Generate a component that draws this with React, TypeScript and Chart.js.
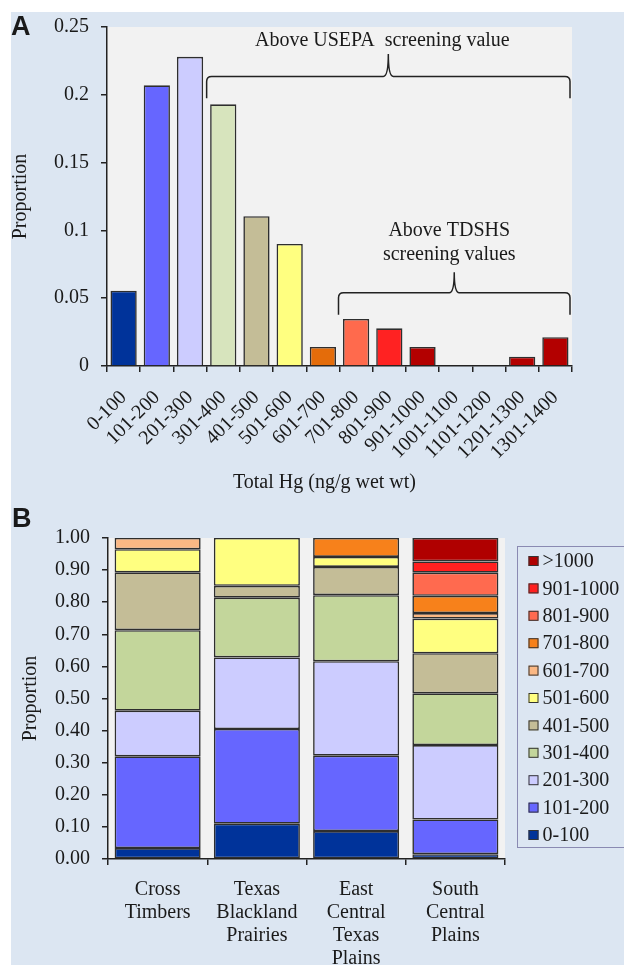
import React, { useEffect, useRef } from "react";
import { Chart, registerables } from "chart.js";

Chart.register(...registerables);

// ---------- Panel A data ----------
const hgBins = [
  "0-100", "101-200", "201-300", "301-400", "401-500", "501-600", "601-700",
  "701-800", "801-900", "901-1000", "1001-1100", "1101-1200", "1201-1300", "1301-1400",
];
const hgProportion = [
  0.0555, 0.207, 0.228, 0.193, 0.1105, 0.09, 0.014,
  0.0347, 0.0278, 0.014, 0, 0, 0.0069, 0.0212,
];
const hgColors = [
  "#00339a", "#6666ff", "#ccccff", "#d7e4bd", "#c4bd97", "#ffff80", "#e46c0a",
  "#ff6a4d", "#ff2222", "#b30000", "#b30000", "#b30000", "#b30000", "#b30000",
];
const yTicksA = [0, 0.05, 0.1, 0.15, 0.2, 0.25];

// ---------- Panel B data ----------
const ecoregions = [
  ["Cross", "Timbers"],
  ["Texas", "Blackland", "Prairies"],
  ["East", "Central", "Texas", "Plains"],
  ["South", "Central", "Plains"],
];
const classLabels = [
  "0-100", "101-200", "201-300", "301-400", "401-500", "501-600",
  "601-700", "701-800", "801-900", "901-1000", ">1000",
];
const classColors = [
  "#00339a", "#6666ff", "#ccccff", "#c3d69b", "#c4bd97", "#ffff80",
  "#fbb884", "#f7811b", "#ff6a4f", "#ff2020", "#b00000",
];
const crossTimbers = [0.034, 0.286, 0.142, 0.251, 0.18, 0.072, 0.035, 0, 0, 0, 0];
const blacklandPrairies = [0.11, 0.295, 0.223, 0.186, 0.037, 0.149, 0, 0, 0, 0, 0];
const eastCentralPlains = [0.087, 0.235, 0.294, 0.206, 0.088, 0.031, 0, 0.059, 0, 0, 0];
const southCentralPlains = [0.015, 0.108, 0.232, 0.161, 0.125, 0.108, 0.017, 0.054, 0.072, 0.035, 0.073];

const SERIF = "'Liberation Serif', 'Times New Roman', Times, serif";
const SANS = "'Liberation Sans', Arial, Helvetica, sans-serif";
const INK = "#1a1a1a";
const AXIS = "#222222";
const EDGE = "#2e2e2e";

const plotBg = {
  id: "plotBg",
  beforeDraw(chart: any) {
    const { ctx, chartArea } = chart;
    const { left, top, right, bottom } = chartArea;
    ctx.save();
    ctx.fillStyle = "#f2f2f2";
    ctx.fillRect(left, top, right - left, bottom - top);
    ctx.restore();
  },
};

function drawBrace(ctx: CanvasRenderingContext2D, x0: number, x1: number, lineY: number, endY: number, peakY: number) {
  const xm = (x0 + x1) / 2;
  const r = 5;
  const rm = 5;
  ctx.beginPath();
  ctx.moveTo(x0, endY);
  ctx.lineTo(x0, lineY + r);
  ctx.quadraticCurveTo(x0, lineY, x0 + r, lineY);
  ctx.lineTo(xm - rm, lineY);
  ctx.quadraticCurveTo(xm, lineY, xm, peakY);
  ctx.quadraticCurveTo(xm, lineY, xm + rm, lineY);
  ctx.lineTo(x1 - r, lineY);
  ctx.quadraticCurveTo(x1, lineY, x1, lineY + r);
  ctx.lineTo(x1, endY);
  ctx.stroke();
}

const annotateA = {
  id: "annotateA",
  afterDraw(chart: any) {
    const { ctx, chartArea } = chart;
    const xs = chart.scales.x;
    const ys = chart.scales.y;
    const half = (xs.getPixelForValue(1) - xs.getPixelForValue(0)) / 2;
    const leftEdge = (i: number) => xs.getPixelForValue(i) - half;
    const rightEdge = (i: number) => xs.getPixelForValue(i) + half;
    ctx.save();
    ctx.strokeStyle = AXIS;
    ctx.lineWidth = 1.5;
    // USEPA brace
    const u0 = leftEdge(3), u1 = rightEdge(13) - 2;
    drawBrace(ctx, u0, u1, ys.getPixelForValue(0.2135), ys.getPixelForValue(0.1975), ys.getPixelForValue(0.2300));
    // TDSHS brace
    const t0 = leftEdge(7) - 1, t1 = rightEdge(13) - 2;
    drawBrace(ctx, t0, t1, ys.getPixelForValue(0.054), ys.getPixelForValue(0.0378), ys.getPixelForValue(0.0692));

    ctx.fillStyle = INK;
    ctx.font = `20px ${SERIF}`;
    ctx.textAlign = "center";
    ctx.textBaseline = "middle";
    ctx.fillText("Above USEPA  screening value", (u0 + u1) / 2 - 6, ys.getPixelForValue(0.2395));
    ctx.fillText("Above TDSHS", (t0 + t1) / 2 - 5, ys.getPixelForValue(0.0996));
    ctx.fillText("screening values", (t0 + t1) / 2 - 5, ys.getPixelForValue(0.0819));

    // x title
    ctx.fillText("Total Hg (ng/g wet wt)", (chartArea.left + chartArea.right) / 2 - 15, 483);

    // y title
    ctx.save();
    ctx.translate(21, (chartArea.top + chartArea.bottom) / 2);
    ctx.rotate(-Math.PI / 2);
    ctx.fillText("Proportion", 0, 0);
    ctx.restore();

    // panel letter
    ctx.font = `bold 27px ${SANS}`;
    ctx.textAlign = "left";
    ctx.textBaseline = "alphabetic";
    ctx.fillText("A", 11, 35);
    ctx.restore();
  },
};

const annotateB = {
  id: "annotateB",
  afterDraw(chart: any) {
    const { ctx, chartArea } = chart;
    ctx.save();
    ctx.fillStyle = INK;
    ctx.font = `20px ${SERIF}`;
    ctx.textAlign = "center";
    ctx.textBaseline = "middle";
    ctx.save();
    ctx.translate(31, (chartArea.top + chartArea.bottom) / 2);
    ctx.rotate(-Math.PI / 2);
    ctx.fillText("Proportion", 0, 0);
    ctx.restore();

    ctx.font = `bold 27px ${SANS}`;
    ctx.textAlign = "left";
    ctx.textBaseline = "alphabetic";
    ctx.fillText("B", 12, 27);

    // legend
    const bx = chartArea.right + 12.5;
    const by = 46.5;
    ctx.strokeStyle = "#8a8ab2";
    ctx.lineWidth = 1;
    ctx.strokeRect(bx, by, 130, 301);
    ctx.font = `20px ${SERIF}`;
    ctx.textBaseline = "middle";
    const ds = chart.data.datasets;
    for (let k = 0; k < ds.length; k++) {
      const d = ds[ds.length - 1 - k];
      const y = 61 + k * 27.4;
      ctx.fillStyle = d.backgroundColor;
      ctx.fillRect(bx + 11, y - 5, 10, 10);
      ctx.strokeStyle = "#333";
      ctx.strokeRect(bx + 11.5, y - 4.5, 9, 9);
      ctx.fillStyle = INK;
      ctx.fillText(d.label, bx + 25, y + 1);
    }
    ctx.restore();
  },
};

export default function App() {
  const refA = useRef<HTMLCanvasElement>(null);
  const refB = useRef<HTMLCanvasElement>(null);

  useEffect(() => {
    const tickFont = { family: SERIF, size: 20 };
    const chartA = new Chart(refA.current as HTMLCanvasElement, {
      type: "bar",
      data: {
        labels: hgBins,
        datasets: [
          {
            data: hgProportion,
            backgroundColor: hgColors,
            borderColor: EDGE,
            borderWidth: 1.6,
            barPercentage: 0.79,
            categoryPercentage: 1,
          },
        ],
      },
      options: {
        animation: false,
        responsive: true,
        maintainAspectRatio: false,
        layout: { padding: { left: 0, top: 27, right: 52, bottom: 0 } },
        plugins: { legend: { display: false }, tooltip: { enabled: false } },
        scales: {
          x: {
            grid: { offset: true, drawOnChartArea: false, color: AXIS, lineWidth: 1.5, tickLength: 6 },
            border: { display: true, color: AXIS, width: 1.5 },
            ticks: { font: tickFont, color: INK, minRotation: 45, maxRotation: 45, autoSkip: false, padding: 14 },
            afterFit: (s: any) => { s.height = 134; },
          },
          y: {
            min: 0,
            max: 0.25,
            afterBuildTicks: (s: any) => { s.ticks = yTicksA.map((v) => ({ value: v })); },
            grid: { drawOnChartArea: false, color: AXIS, lineWidth: 1.5, tickLength: 6 },
            border: { display: true, color: AXIS, width: 1.5 },
            ticks: {
              font: tickFont,
              color: INK,
              padding: 12,
              callback: (v: any) => String(+Number(v).toFixed(2)),
            },
            afterFit: (s: any) => { s.width = 107; },
          },
        },
      },
      plugins: [plotBg, annotateA],
    } as any);

    const seriesB = [crossTimbers, blacklandPrairies, eastCentralPlains, southCentralPlains];
    const chartB = new Chart(refB.current as HTMLCanvasElement, {
      type: "bar",
      data: {
        labels: ecoregions,
        datasets: classLabels.map((lab, i) => ({
          label: lab,
          data: seriesB.map((s) => (s[i] > 0 ? s[i] : null)),
          backgroundColor: classColors[i],
          borderColor: EDGE,
          borderWidth: 1.6,
          borderSkipped: false,
          barPercentage: 0.867,
          categoryPercentage: 1,
        })),
      },
      options: {
        animation: false,
        responsive: true,
        maintainAspectRatio: false,
        layout: { padding: { left: 0, top: 38, right: 119, bottom: 0 } },
        plugins: { legend: { display: false }, tooltip: { enabled: false } },
        scales: {
          x: {
            stacked: true,
            grid: { offset: true, drawOnChartArea: false, color: AXIS, lineWidth: 1.5, tickLength: 6 },
            border: { display: true, color: AXIS, width: 1.5 },
            ticks: { font: { family: SERIF, size: 20, lineHeight: 1.15 }, color: INK, maxRotation: 0, autoSkip: false, padding: 13 },
            afterFit: (s: any) => { s.height = 106; },
          },
          y: {
            stacked: true,
            min: 0,
            max: 1,
            grid: { drawOnChartArea: false, color: AXIS, lineWidth: 1.5, tickLength: 6 },
            border: { display: true, color: AXIS, width: 1.5 },
            ticks: { stepSize: 0.1, font: tickFont, color: INK, padding: 12, callback: (v: any) => Number(v).toFixed(2) },
            afterFit: (s: any) => { s.width = 108; },
          },
        },
      },
      plugins: [plotBg, annotateB],
    } as any);

    return () => {
      chartA.destroy();
      chartB.destroy();
    };
  }, []);

  return (
    <div style={{ position: "absolute", left: 0, top: 0, width: 624, height: 965, background: "#ffffff", overflow: "hidden" }}>
      <div style={{ position: "absolute", left: 11, top: 12, right: 0, bottom: 0, background: "#dce6f2" }} />
      <div style={{ position: "absolute", left: 0, top: 0, width: 624, height: 500 }}>
        <canvas ref={refA} />
      </div>
      <div style={{ position: "absolute", left: 0, top: 500, width: 624, height: 465 }}>
        <canvas ref={refB} />
      </div>
    </div>
  );
}
